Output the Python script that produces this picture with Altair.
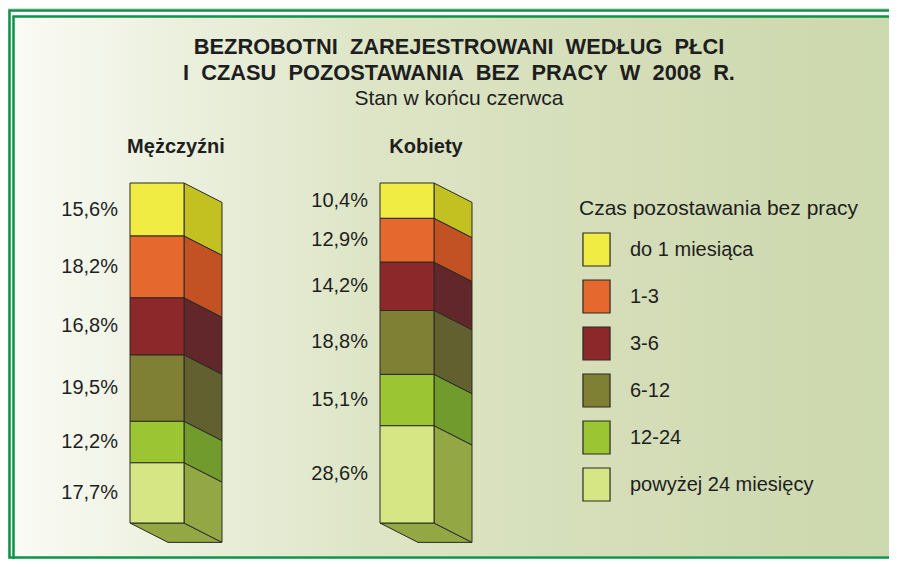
import altair as alt
import pandas as pd

# ---------------- data ----------------
CATS = ["do 1 miesiąca", "1-3", "3-6", "6-12", "12-24", "powyżej 24 miesięcy"]
GROUPS = ["Mężczyźni", "Kobiety"]
MEN = [15.6, 18.2, 16.8, 19.5, 12.2, 17.7]
WOMEN = [10.4, 12.9, 14.2, 18.8, 15.1, 28.6]
LABELS_MEN = ["15,6%", "18,2%", "16,8%", "19,5%", "12,2%", "17,7%"]
LABELS_WOMEN = ["10,4%", "12,9%", "14,2%", "18,8%", "15,1%", "28,6%"]

SP = "\u00a0 "  # wide word gap
TITLE_1 = SP.join(["BEZROBOTNI", "ZAREJESTROWANI", "WEDŁUG", "PŁCI"])
TITLE_2 = SP.join(["I", "CZASU", "POZOSTAWANIA", "BEZ", "PRACY", "W", "2008", "R."])
SUBTITLE = "Stan w końcu czerwca"
LEGEND_TITLE = "Czas pozostawania bez pracy"

# ---------------- style ----------------
FRONT = ["#f0ec44", "#e5682f", "#8c272a", "#7f8034", "#9cc534", "#d6e684"]
SIDE = ["#c2c121", "#c25124", "#62272a", "#636030", "#729b2e", "#93a844"]
BOTTOM = "#93a844"
EDGE = "#2a2a22"
GREEN = "#0b9447"
TXT = "#1e1e1e"
FONT = "Liberation Sans"

W = 0.216      # bar front width (x units)
D = 0.152      # depth offset x (x units)
DY = 5.7       # depth offset y (percent units)

xs = alt.Scale(domain=[0, 1], range=[122, 372], zero=False, nice=False)
ys = alt.Scale(domain=[0, 100], range=[175, 515], zero=False, nice=False)

front_rows, side_rows, label_rows, bottom_rows = [], [], [], []
for i, (vals, labs) in enumerate([(MEN, LABELS_MEN), (WOMEN, LABELS_WOMEN)]):
    y0 = 0.0
    for j, (c, v, lab) in enumerate(zip(CATS, vals, labs)):
        y1 = y0 + v
        front_rows.append({"cat": c, "x0": i, "x1": i + W, "y0": y0, "y1": y1})
        seg = f"{i}-{j}"
        side_rows.append({"seg": seg, "sx": i + W, "top": y0, "bot": y1, "col": SIDE[j]})
        side_rows.append({"seg": seg, "sx": i + W + D, "top": y0 + DY, "bot": y1 + DY, "col": SIDE[j]})
        label_rows.append({"lx": i, "ly": (y0 + y1) / 2, "lab": lab})
        y0 = y1
    bottom_rows.append({"bar": i, "by": 100, "xa": i, "xb": i + W})
    bottom_rows.append({"bar": i, "by": 100 + DY, "xa": i + D, "xb": i + W + D})

front_df = pd.DataFrame(front_rows)
side_df = pd.DataFrame(side_rows)
label_df = pd.DataFrame(label_rows)
bottom_df = pd.DataFrame(bottom_rows)
header_df = pd.DataFrame({"g": GROUPS, "hx": [i + (W + D) / 2 for i in range(len(GROUPS))]})
one = pd.DataFrame({"a": [0]})

# ---------------- decoration ----------------
bg = alt.Chart(one).mark_rect(
    color=alt.Gradient(
        gradient="linear",
        stops=[
            alt.GradientStop(color="#fafbf5", offset=0),
            alt.GradientStop(color="#eef2e2", offset=0.15),
            alt.GradientStop(color="#dde5c6", offset=0.4),
            alt.GradientStop(color="#d4ddb7", offset=0.7),
            alt.GradientStop(color="#ccd8ad", offset=1),
        ],
        x1=0, x2=1, y1=0, y2=0,
    )
).encode(x=alt.value(6), x2=alt.value(900), y=alt.value(9), y2=alt.value(548))

inner = alt.Chart(one).mark_rect(filled=False, stroke=GREEN, strokeWidth=2.5).encode(
    x=alt.value(5.5), x2=alt.value(905), y=alt.value(8.5), y2=alt.value(570)
)
outer = alt.Chart(one).mark_rect(filled=False, stroke=GREEN, strokeWidth=2.5).encode(
    x=alt.value(1.5), x2=alt.value(905), y=alt.value(2.5), y2=alt.value(549.5)
)

# ---------------- bars ----------------
bottom = alt.Chart(bottom_df).mark_area(
    orient="horizontal", stroke=EDGE, strokeWidth=1, color=BOTTOM, opacity=1
).encode(
    y=alt.Y("by:Q", scale=ys, axis=None),
    x=alt.X("xa:Q", scale=xs, axis=None, stack=None),
    x2="xb:Q",
    detail="bar:N",
)

side = alt.Chart(side_df).mark_area(
    orient="vertical", stroke=EDGE, strokeWidth=1, opacity=1
).encode(
    x=alt.X("sx:Q", scale=xs, axis=None),
    y=alt.Y("top:Q", scale=ys, axis=None, stack=None),
    y2="bot:Q",
    color=alt.Color("col:N", scale=None),
    detail="seg:N",
)

front = alt.Chart(front_df).mark_rect(stroke=EDGE, strokeWidth=1).encode(
    x=alt.X("x0:Q", scale=xs, axis=None),
    x2="x1:Q",
    y=alt.Y("y0:Q", scale=ys, axis=None),
    y2="y1:Q",
    color=alt.Color(
        "cat:N",
        scale=alt.Scale(domain=CATS, range=FRONT),
        sort=CATS,
        legend=alt.Legend(
            title=LEGEND_TITLE,
            orient="none",
            legendX=571,
            legendY=190,
            symbolType="M-0.82,-1H0.82V1H-0.82Z",
            symbolSize=1089,
            symbolStrokeColor="#3b3b2b",
            symbolStrokeWidth=1.2,
            symbolOpacity=1,
            labelFont=FONT,
            labelFontSize=20,
            labelColor=TXT,
            labelOffset=16,
            labelLimit=400,
            rowPadding=8,
            titleFont=FONT,
            titleFontSize=21,
            titleFontWeight="normal",
            titleColor=TXT,
            titlePadding=13,
            titleLimit=400,
            padding=0,
        ),
    ),
)

labels = alt.Chart(label_df).mark_text(
    align="right", baseline="middle", dx=-12, font=FONT, fontSize=20, color=TXT
).encode(
    x=alt.X("lx:Q", scale=xs, axis=None),
    y=alt.Y("ly:Q", scale=ys, axis=None),
    text="lab:N",
)

headers = alt.Chart(header_df).mark_text(
    align="center", baseline="middle", font=FONT, fontSize=20, fontWeight="bold", color=TXT
).encode(
    x=alt.X("hx:Q", scale=xs, axis=None),
    y=alt.value(139),
    text="g:N",
)

def txt(s, y, size, weight):
    return alt.Chart(one).mark_text(
        text=s, align="center", baseline="middle", font=FONT, fontSize=size,
        fontWeight=weight, color=TXT
    ).encode(x=alt.value(451), y=alt.value(y))

t1 = txt(TITLE_1, 39, 21.8, "bold")
t2 = txt(TITLE_2, 65, 21.8, "bold")
t3 = txt(SUBTITLE, 91, 21, "normal")

chart = alt.layer(
    bg, inner, outer, bottom, side, front, labels, headers, t1, t2, t3
).properties(
    width=881, height=551,
    autosize=alt.AutoSizeParams(type="none"),
    padding=0,
).configure_view(stroke=None).configure(background="white")

chart.save("out.html", embed_options={"renderer": "svg", "actions": False})
